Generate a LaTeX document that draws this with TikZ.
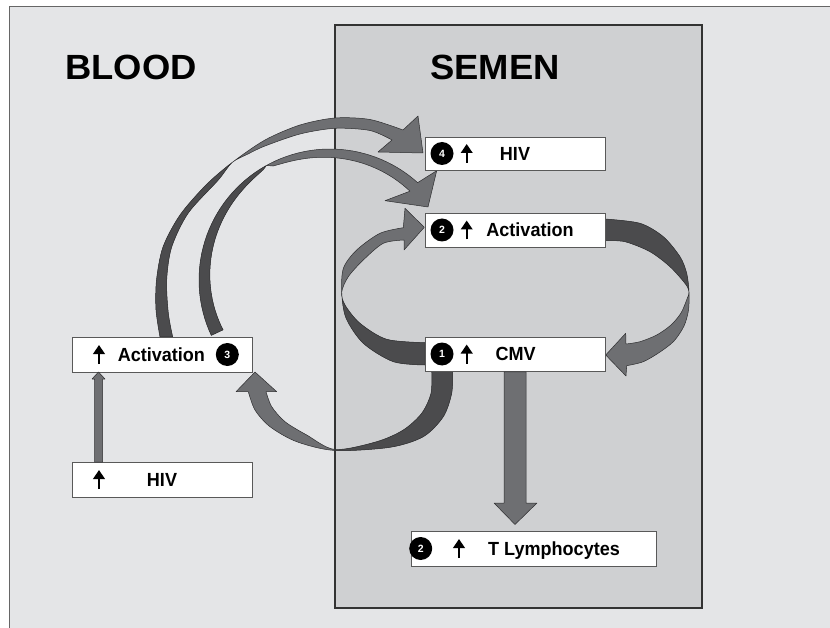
\documentclass[tikz,border=0pt]{standalone}
\usepackage{fontspec}
\setmainfont{Liberation Sans}
\newfontfamily\labfont[FakeStretch=0.95]{Liberation Sans}
\newfontfamily\ttlfont[FakeStretch=1.04]{Liberation Sans}
\usetikzlibrary{arrows.meta}
\definecolor{bgout}{HTML}{E4E5E7}
\definecolor{bgsem}{HTML}{CFD0D2}
\definecolor{rlight}{HTML}{6E6F72}
\definecolor{rdark}{HTML}{4B4B4D}
\definecolor{edgec}{HTML}{2E2E30}
\begin{document}
\begin{tikzpicture}[x=1pt,y=-1pt,
 box/.style={draw=black!65, line width=0.9pt, fill=white, inner sep=0pt, anchor=north west},
 num/.style={circle, fill=black, text=white, inner sep=0pt, minimum size=23pt, font=\fontsize{10.5}{10.5}\selectfont\bfseries},
 lab/.style={anchor=base, inner sep=0pt, font=\labfont\fontsize{19}{20}\selectfont\bfseries},
 ttl/.style={anchor=base, inner sep=0pt, font=\ttlfont\fontsize{35}{36}\selectfont\bfseries},
 uparr/.style={line width=2.2pt, -{Triangle[width=11.5pt,length=9pt]}},
 light/.style={fill=rlight, draw=edgec, line width=0.5pt, line join=round},
 outl/.style={draw=edgec, line width=0.5pt, line join=round}]

\useasboundingbox (0,0) rectangle (830,628);
\fill[white] (0,0) rectangle (830,628);
\fill[bgout] (9,7) rectangle (830,628);
\draw[black!60, line width=1pt] (9,628) -- (9,7) -- (830,7);
\draw[fill=bgsem, draw=black!80, line width=1.2pt] (335,25) rectangle (702,608);

\node[ttl] (blood) at (131,80) {BLOOD};
\node[ttl] (semen) at (495,80) {SEMEN};

% ribbon A: Activation(3) -> HIV(4)
\path[save path=\ribA] plot[smooth] coordinates {(160,337) (156,310) (156.5,280) (163,247) (180,215) (206,185) (232,162.6) (265,140) (300,125) (335,118) (370,119.5) (403,130)}
  -- (418,116) -- (423,153) -- (378,152) -- (392,140)
  -- plot[smooth] coordinates {(392,140) (370,130.5) (335,128.3) (300,134) (265,146) (248,154) (232,162.6) (218.3,180) (188.3,213) (171.7,247) (166.7,280) (168.3,313) (172.7,337)} -- cycle;
\fill[rlight, use path=\ribA];
\begin{scope}
  \clip (132,62.6) -- (332,262.6) -- (332,400) -- (0,400) -- (0,62.6) -- cycle;
  \fill[rdark, use path=\ribA];
\end{scope}
\path[outl, use path=\ribA];

% ribbon B: Activation(3) -> Activation(2)
\path[save path=\ribB] plot[domain=205:48, samples=60] ({330+131*cos(\x)}, {280-131*sin(\x)})
  -- (436.7,170.7) -- (428,207) -- (385,200.7)
  -- plot[domain=48:119, samples=30] ({330+(131-11.5*pow((119-\x)/71,0.35))*cos(\x)}, {280-(131-11.5*pow((119-\x)/71,0.35))*sin(\x)})
  -- plot[domain=119:205, samples=40] ({330+(131-13*sqrt((\x-119)/86))*cos(\x)}, {280-(131-13*sqrt((\x-119)/86))*sin(\x)}) -- cycle;
\fill[rlight, use path=\ribB];
\begin{scope}
  \clip (330,280) -- ({330+300*cos(119)},{280-300*sin(119)}) -- (0,0) -- (0,450) -- (330,450) -- cycle;
  \fill[rdark, use path=\ribB];
\end{scope}
\path[outl, use path=\ribB];

% ribbon C: Activation(2) -> CMV
\path[save path=\ribC] plot[smooth] coordinates {(605,219) (640,223.3) (663.3,236.7) (680,256.7) (686.7,273.3) (689,292) (688.5,310) (684,326) (674,341) (660,352) (643.3,361.7) (626.7,365.7)}
  -- (626,376) -- (605.7,355) -- (625.7,333.3) -- (626,344)
  -- plot[smooth] coordinates {(626,344) (640,341.7) (656.7,335) (671,325) (681,313) (687,299) (689,292) (685.5,284) (670,266.7) (650,251.7) (625,241.7) (605,240.7)} -- cycle;
\fill[rlight, use path=\ribC];
\begin{scope}
  \clip (590,200) rectangle (720,292);
  \fill[rdark, use path=\ribC];
\end{scope}
\path[outl, use path=\ribC];

% ribbon D: CMV -> Activation(2)
\path[save path=\ribD] plot[smooth] coordinates {(425,365) (393.3,361.7) (363.3,343.3) (346,318) (341.7,292) (343.5,268) (356.7,250) (380,233.3) (403.3,227.7)}
  -- (405,208.3) -- (424.3,227.3) -- (404,250) -- (404,240)
  -- plot[smooth] coordinates {(404,240) (383.3,243.3) (363.3,260) (348.3,276.7) (341.7,292) (345,305) (360,323.3) (386.7,339.3) (425,342.7)} -- cycle;
\fill[rlight, use path=\ribD];
\begin{scope}
  \clip (330,292) rectangle (430,380);
  \fill[rdark, use path=\ribD];
\end{scope}
\path[outl, use path=\ribD];

% ribbon E: CMV -> Activation(3)
\path[save path=\ribE] plot[smooth] coordinates {(452.7,371) (451.7,393.3) (443.3,416.7) (423.3,436.7) (390,447.3) (335,450.5) (296.7,441.7) (270,426.7) (255,410) (248.3,391.7)}
  -- (236,391.7) -- (255,372) -- (276.7,391.7) -- (266,391.7)
  -- plot[smooth] coordinates {(266,391.7) (271.7,406.7) (285,421.7) (306.7,435) (335,449.5) (376.7,441.7) (403.3,430) (421.7,413.3) (431,393.3) (431.7,371)} -- cycle;
\fill[rlight, use path=\ribE];
\begin{scope}
  \clip (335,360) rectangle (470,470);
  \fill[rdark, use path=\ribE];
\end{scope}
\path[outl, use path=\ribE];

% boxes
\node[box, minimum width=180pt, minimum height=33pt] (hivf) at (425,137) {};
\node[box, minimum width=180pt, minimum height=34pt] (actf) at (425,213) {};
\node[box, minimum width=180pt, minimum height=34pt] (cmv) at (425,337) {};
\node[box, minimum width=180pt, minimum height=35pt] (actb) at (72,337) {};
\node[box, minimum width=180pt, minimum height=35pt] (hivb) at (72,462) {};
\node[box, minimum width=245pt, minimum height=35pt] (tly) at (411,531) {};

% straight arrows
\draw[light] (hivb.north -| 94.5,0) -- (94.5,379) -- (92,379) -- (98.5,372) -- (105,379) -- (102.5,379) -- (hivb.north -| 102.5,0) -- cycle;
\draw[light] (cmv.south -| 504,0) -- (504,503) -- (494,503) -- (515,524.5) -- (537,503) -- (526,503) -- (cmv.south -| 526,0) -- cycle;

% box contents
\node[num] (n4) at (442,153.5) {4};
\draw[uparr] (466.7,163) -- (466.7,144);
\node[lab] (t4) at (515,160.3) {HIV};

\node[num] (n2a) at (442,230) {2};
\draw[uparr] (466.7,239.5) -- (466.7,220.5);
\node[lab] (t2) at (530,236.8) {Activation};

\node[num] (n1) at (442,354) {1};
\draw[uparr] (466.7,363.5) -- (466.7,344.5);
\node[lab] (t1) at (515.7,360.8) {CMV};

\draw[uparr] (99,364) -- (99,345);
\node[lab] (t3) at (161.4,361.3) {Activation};
\node[num] (n3) at (227.3,354.5) {3};

\draw[uparr] (99,489) -- (99,470);
\node[lab] (th) at (162,486.3) {HIV};

\node[num] (n2b) at (420.7,548.5) {2};
\draw[uparr] (459,558) -- (459,539);
\node[lab] (tt) at (554,555.3) {T Lymphocytes};
\end{tikzpicture}
\end{document}
